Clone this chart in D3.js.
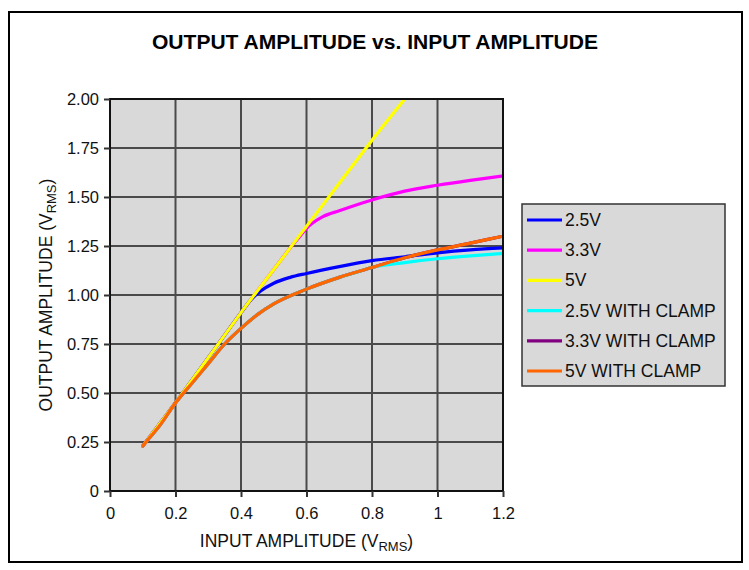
<!DOCTYPE html>
<html>
<head>
<meta charset="utf-8">
<script src="https://cdn.jsdelivr.net/npm/d3@7"></script>
<style>
  body { margin: 0; background: #fff; }
  svg { display: block; font-family: "Liberation Sans", Arial, sans-serif; }
</style>
</head>
<body>
<svg id="chart" width="749" height="570"></svg>
<script>
// values
var xTicks = [0, 0.2, 0.4, 0.6, 0.8, 1.0, 1.2];
var xTickLabels = ["0", "0.2", "0.4", "0.6", "0.8", "1", "1.2"];
var yTicks = [0, 0.25, 0.5, 0.75, 1.0, 1.25, 1.5, 1.75, 2.0];
var yTickLabels = ["0", "0.25", "0.50", "0.75", "1.00", "1.25", "1.50", "1.75", "2.00"];

var seriesNames = ["2.5V", "3.3V", "5V", "2.5V WITH CLAMP", "3.3V WITH CLAMP", "5V WITH CLAMP"];
var seriesColors = ["#0000ff", "#ff00ff", "#ffff00", "#00ffff", "#800080", "#ff6600"];

var x25 = [0.1, 0.15, 0.2, 0.25, 0.3, 0.35, 0.4, 0.43, 0.46, 0.5, 0.55, 0.6, 0.7, 0.8, 0.9, 1.0, 1.1, 1.2];
var y25 = [0.23, 0.34, 0.45, 0.565, 0.68, 0.795, 0.91, 0.975, 1.02, 1.06, 1.09, 1.11, 1.145, 1.175, 1.195, 1.215, 1.23, 1.24];

var x33 = [0.1, 0.2, 0.3, 0.4, 0.5, 0.55, 0.58, 0.6, 0.65, 0.7, 0.8, 0.9, 1.0, 1.1, 1.2];
var y33 = [0.23, 0.45, 0.68, 0.91, 1.13, 1.24, 1.30, 1.34, 1.40, 1.43, 1.485, 1.53, 1.56, 1.585, 1.607];

var x5 = [0.1, 0.15, 0.2, 0.25, 0.3, 0.35, 0.4, 0.5, 0.6, 0.7, 0.8, 0.9];
var y5 = [0.23, 0.34, 0.45, 0.565, 0.68, 0.795, 0.91, 1.13, 1.35, 1.57, 1.79, 2.0];

var x25c = [0.1, 0.12, 0.15, 0.2, 0.25, 0.3, 0.35, 0.4, 0.45, 0.5, 0.6, 0.7, 0.75, 0.8, 0.9, 1.0, 1.1, 1.2];
var y25c = [0.23, 0.27, 0.33, 0.45, 0.55, 0.65, 0.75, 0.83, 0.9, 0.955, 1.03, 1.09, 1.115, 1.14, 1.165, 1.185, 1.2, 1.212];

var x33c = [0.1, 0.12, 0.15, 0.2, 0.25, 0.3, 0.35, 0.4, 0.45, 0.5, 0.6, 0.7, 0.8, 0.9, 1.0, 1.1, 1.2];
var y33c = [0.23, 0.27, 0.33, 0.45, 0.55, 0.65, 0.75, 0.83, 0.9, 0.955, 1.03, 1.09, 1.14, 1.19, 1.23, 1.265, 1.30];

var x5c = [0.1, 0.12, 0.15, 0.2, 0.25, 0.3, 0.35, 0.4, 0.45, 0.5, 0.6, 0.7, 0.8, 0.9, 1.0, 1.1, 1.2];
var y5c = [0.23, 0.27, 0.33, 0.45, 0.55, 0.65, 0.75, 0.83, 0.9, 0.955, 1.03, 1.09, 1.14, 1.19, 1.23, 1.265, 1.30];

function zip(xs, ys) { return xs.map(function(v, i) { return {x: v, y: ys[i]}; }); }

var series = [
  zip(x25, y25), zip(x33, y33), zip(x5, y5),
  zip(x25c, y25c), zip(x33c, y33c), zip(x5c, y5c)
];
// drawing order: hidden ones first, 5V over the others, 5V clamp on top
var drawOrder = [4, 3, 1, 0, 2, 5];

var svg = d3.select("#chart");

// outer frame
svg.append("rect")
  .attr("x", 9).attr("y", 12)
  .attr("width", 733).attr("height", 550)
  .attr("fill", "#fff")
  .attr("stroke", "#000")
  .attr("stroke-width", 2);

svg.append("text")
  .attr("x", 375).attr("y", 49)
  .attr("text-anchor", "middle")
  .attr("font-size", 20)
  .attr("font-weight", "bold")
  .attr("textLength", 446)
  .attr("lengthAdjust", "spacingAndGlyphs")
  .text("OUTPUT AMPLITUDE vs. INPUT AMPLITUDE");

var plot = {left: 110, top: 99, right: 503, bottom: 491};

var xScale = d3.scaleLinear().domain([0, 1.2]).range([plot.left, plot.right]);
var yScale = d3.scaleLinear().domain([0, 2]).range([plot.bottom, plot.top]);

svg.append("rect")
  .attr("x", plot.left).attr("y", plot.top)
  .attr("width", plot.right - plot.left).attr("height", plot.bottom - plot.top)
  .attr("fill", "#d9d9d9");

// grid
svg.append("g").selectAll("line").data(xTicks).enter().append("line")
  .attr("x1", function(d) { return xScale(d); }).attr("x2", function(d) { return xScale(d); })
  .attr("y1", plot.top).attr("y2", plot.bottom)
  .attr("stroke", "#4a4a4a").attr("stroke-width", 2);
svg.append("g").selectAll("line").data(yTicks).enter().append("line")
  .attr("y1", function(d) { return yScale(d); }).attr("y2", function(d) { return yScale(d); })
  .attr("x1", plot.left).attr("x2", plot.right)
  .attr("stroke", "#4a4a4a").attr("stroke-width", 2);

// series
var line = d3.line()
  .x(function(d) { return xScale(d.x); })
  .y(function(d) { return yScale(d.y); })
  .curve(d3.curveMonotoneX);

svg.append("defs").append("clipPath").attr("id", "clip")
  .append("rect")
  .attr("x", plot.left).attr("y", plot.top)
  .attr("width", plot.right - plot.left).attr("height", plot.bottom - plot.top);

svg.append("g").attr("clip-path", "url(#clip)")
  .selectAll("path").data(drawOrder).enter().append("path")
  .attr("d", function(i) { return line(series[i]); })
  .attr("fill", "none")
  .attr("stroke", function(i) { return seriesColors[i]; })
  .attr("stroke-width", 3.2)
  .attr("stroke-linecap", "round")
  .attr("stroke-linejoin", "round");

// plot border
svg.append("rect")
  .attr("x", plot.left).attr("y", plot.top)
  .attr("width", plot.right - plot.left).attr("height", plot.bottom - plot.top)
  .attr("fill", "none").attr("stroke", "#111").attr("stroke-width", 2);

// axes
var xAxis = d3.axisBottom(xScale)
  .tickValues(xTicks)
  .tickSize(6)
  .tickFormat(function(d, i) { return xTickLabels[i]; });
var yAxis = d3.axisLeft(yScale)
  .tickValues(yTicks)
  .tickSize(6)
  .tickFormat(function(d, i) { return yTickLabels[i]; });

var gx = svg.append("g")
  .attr("transform", "translate(0," + plot.bottom + ")")
  .call(xAxis);
var gy = svg.append("g")
  .attr("transform", "translate(" + plot.left + ",0)")
  .call(yAxis);

[gx, gy].forEach(function(g) {
  g.select(".domain").remove();
  g.selectAll(".tick line").attr("stroke", "#333").attr("stroke-width", 2);
  g.selectAll(".tick text")
    .attr("font-family", "Liberation Sans, Arial, sans-serif")
    .attr("font-size", 16.5)
    .attr("fill", "#111");
});
gx.selectAll(".tick text").attr("y", 16);
gy.selectAll(".tick text").attr("x", -11);

// axis titles
var xt = svg.append("text")
  .attr("x", (plot.left + plot.right) / 2).attr("y", 547)
  .attr("text-anchor", "middle")
  .attr("font-size", 17.5).attr("fill", "#111");
xt.append("tspan").text("INPUT AMPLITUDE (V");
xt.append("tspan").attr("font-size", 13).attr("dy", 4).text("RMS");
xt.append("tspan").attr("dy", -4).text(")");

var yt = svg.append("text")
  .attr("transform", "translate(52," + ((plot.top + plot.bottom) / 2) + ") rotate(-90)")
  .attr("text-anchor", "middle")
  .attr("font-size", 17.5).attr("fill", "#111");
yt.append("tspan").text("OUTPUT AMPLITUDE (V");
yt.append("tspan").attr("font-size", 13).attr("dy", 4).text("RMS");
yt.append("tspan").attr("dy", -4).text(")");

// legend
var legend = svg.append("g");
legend.append("rect")
  .attr("x", 522).attr("y", 204)
  .attr("width", 203).attr("height", 182)
  .attr("fill", "#d9d9d9")
  .attr("stroke", "#333").attr("stroke-width", 1.5);

var items = legend.selectAll("g.item").data(seriesNames).enter().append("g")
  .attr("class", "item")
  .attr("transform", function(d, i) { return "translate(0," + (220 + i * 30.2) + ")"; });
items.append("line")
  .attr("x1", 527).attr("x2", 562)
  .attr("stroke", function(d, i) { return seriesColors[i]; })
  .attr("stroke-width", 3.2);
items.append("text")
  .attr("x", 565).attr("y", 6)
  .attr("font-size", 17.5).attr("fill", "#111")
  .text(function(d) { return d; });
</script>
</body>
</html>
